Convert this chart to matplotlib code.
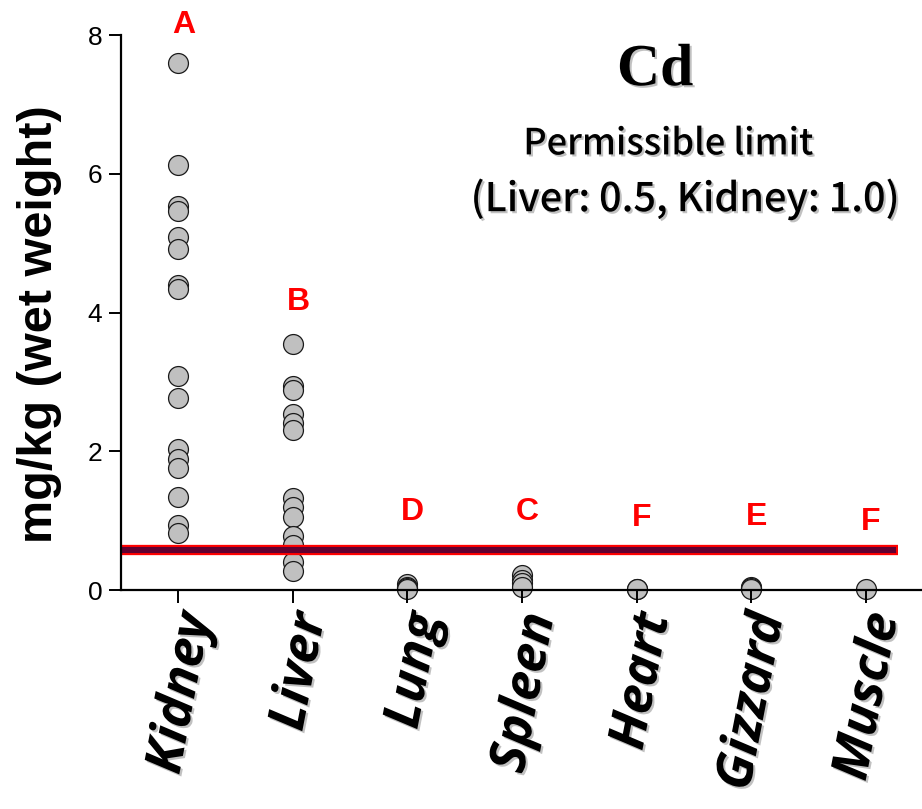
import matplotlib
matplotlib.use("Agg")
import matplotlib.pyplot as plt
import matplotlib.patheffects as pe
import matplotlib.transforms as mtransforms

# Cd concentration per tissue, mg/kg wet weight
tissues = ["Kidney", "Liver", "Lung", "Spleen", "Heart", "Gizzard", "Muscle"]
kidney = [7.59, 6.13, 5.53, 5.47, 5.09, 4.91, 4.39, 4.34, 3.08, 2.77,
          2.03, 1.89, 1.76, 1.34, 0.94, 0.82]
liver = [3.55, 2.94, 2.89, 2.53, 2.41, 2.30, 1.32, 1.19, 1.05, 0.78,
         0.65, 0.41, 0.28]
lung = [0.08, 0.05, 0.03, 0.02]
spleen = [0.22, 0.15, 0.10, 0.05]
heart = [0.01, 0.01]
gizzard = [0.05, 0.03, 0.02]
muscle = [0.01]
values = [kidney, liver, lung, spleen, heart, gizzard, muscle]

# significance groups and where they sit
groups = ["A", "B", "D", "C", "F", "E", "F"]
group_y = [8.14, 4.15, 1.12, 1.12, 1.04, 1.05, 0.98]

limit_line = 0.58
yticks = [0, 2, 4, 6, 8]

fig = plt.figure(figsize=(9.22, 8.09), dpi=100)
ax = fig.add_axes([0.1312, 0.2707, 0.8688, 0.686])

for i, vals in enumerate(values):
    ax.scatter([i] * len(vals), vals, s=205, facecolor="#c0c0c0",
               edgecolor="#1a1a1a", linewidth=0.9, zorder=1, clip_on=False)

# limit band: red outline with maroon core
ax.hlines(limit_line, -0.5, 6.28, color="#ff0000", linewidth=7.4, zorder=2)
ax.hlines(limit_line, -0.5, 6.26, color="#600030", linewidth=4.4, zorder=2.1)

for i, (g, gy) in enumerate(zip(groups, group_y)):
    ax.text(i + 0.045, gy, g, color="#ff0000", fontsize=23, fontweight="bold",
            family="Liberation Sans", ha="center", va="center")

ax.set_xlim(-0.5, 6.49)
ax.set_ylim(0, 8)
ax.set_yticks(yticks)
ax.set_yticklabels([str(t) for t in yticks], family="Liberation Sans", fontsize=19)
ax.set_xticks(range(len(tissues)))

for side in ("top", "right"):
    ax.spines[side].set_visible(False)
for side in ("left", "bottom"):
    ax.spines[side].set_linewidth(1.6)
ax.tick_params(axis="both", length=9, width=1.4, direction="out", pad=4.5)

shadow = [pe.withSimplePatchShadow(offset=(1.5, -1.5), shadow_rgbFace="#777777", alpha=0.45)]

labels = ax.set_xticklabels(tissues, rotation=79, ha="right", va="center",
                            rotation_mode="anchor", fontsize=37,
                            fontweight="bold", style="italic",
                            family=["Open Sans", "Lato", "DejaVu Sans"])
offset = mtransforms.ScaledTranslation(19 / 100, -5 / 100, fig.dpi_scale_trans)
for lab in labels:
    lab.set_transform(lab.get_transform() + offset)
    lab.set_path_effects(shadow)

ax.set_ylabel("mg/kg (wet weight)", fontsize=35, fontweight="bold",
              family="Liberation Sans")
ax.yaxis.set_label_coords(-0.074, 0.479)

fig.text(0.7105, 0.912, "Cd", fontsize=43, fontweight="bold",
         family="Liberation Serif", ha="center", va="center", path_effects=shadow)
fig.text(0.7245, 0.8215, "Permissible limit", fontsize=26,
         family=["Noto Sans CJK JP", "DejaVu Sans"], fontweight="medium",
         ha="center", va="center", path_effects=shadow)
fig.text(0.743, 0.753, "(Liver: 0.5, Kidney: 1.0)", fontsize=28.5,
         family=["Noto Sans CJK JP", "DejaVu Sans"], fontweight="medium",
         ha="center", va="center", path_effects=shadow)

fig.savefig("out.png", dpi=100)
